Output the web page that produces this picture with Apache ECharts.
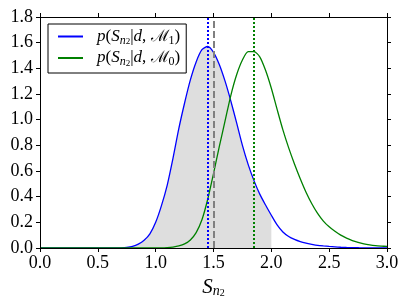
<!DOCTYPE html>
<html><head><meta charset="utf-8">
<script src="https://cdn.jsdelivr.net/npm/echarts@6/dist/echarts.min.js"></script>
<style>html,body{margin:0;padding:0;background:#fff}#c{width:407px;height:308px}</style>
</head><body><div id="c"></div>
<script>
const xs = [0.00,0.05,0.10,0.15,0.20,0.25,0.30,0.35,0.40,0.45,0.50,0.55,0.60,0.65,0.70,0.75,0.80,0.85,0.90,0.95,
1.00,1.05,1.10,1.15,1.20,1.25,1.30,1.35,1.40,1.45,1.50,1.55,1.60,1.65,1.70,1.75,1.80,1.85,1.90,1.95,
2.00,2.05,2.10,2.15,2.20,2.25,2.30,2.35,2.40,2.45,2.50,2.55,2.60,2.65,2.70,2.75,2.80,2.85,2.90,2.95,3.00];
const pM1 = [0,0,0,0,0,0,0,0,0,0,0,0,0,0,
0.001,0.004,0.012,0.030,0.060,0.11,
0.20,0.33,0.49,0.70,0.93,1.13,1.31,1.45,1.545,1.57,
1.525,1.43,1.30,1.145,0.975,0.80,0.65,0.525,0.42,0.335,
0.255,0.18,0.125,0.09,0.067,0.05,0.038,0.029,0.021,0.016,
0.012,0.009,0.006,0.004,0.003,0.002,0.001,0.001,0,0,
0];
const pM0 = [0,0,0,0,0,0,0,0,0,0,0,0,0,0,0,0,0,0,0,0,0,0,
0.002,0.007,0.016,0.032,0.063,0.12,0.22,0.38,
0.58,0.79,0.99,1.19,1.35,1.465,1.53,1.53,1.49,1.385,
1.245,1.08,0.92,0.78,0.655,0.54,0.435,0.345,0.27,0.21,
0.165,0.13,0.10,0.077,0.058,0.044,0.033,0.025,0.019,0.015,
0.012];
const shadeMax = 2.0;
const vlineM1 = 1.452;
const vlineData = 1.5;
const vlineM0 = 1.855;
const xTicks = {min:0, max:3, interval:0.5};
const yTicks = {min:0, max:1.8, interval:0.2};

const FONT = '"Liberation Serif","DejaVu Serif",serif';
const SMOOTH = 0.25;
const pair = (arr) => xs.map((x,i)=>[x, arr[i]]);
const shadeData = xs.map((x,i)=>[x,pM1[i]]).filter(p=>p[0] <= shadeMax + 1e-9);

const chart = echarts.init(document.getElementById('c'), null, {renderer:'canvas'});
const axisCommon = {
  axisLine:{show:true, onZero:false, lineStyle:{color:'#000', width:1}},
  axisTick:{show:true, inside:false, length:4, lineStyle:{color:'#000', width:1}},
  splitLine:{show:false},
  z:10
};
const lblStyle = {color:'#000', fontFamily:FONT, fontSize:18};
const richLegend = {
  sp:{width:9},
  i:{fontFamily:FONT, fontStyle:'italic', fontSize:17, color:'#000', lineHeight:20},
  r:{fontFamily:FONT, fontSize:17, color:'#000', lineHeight:20},
  m:{fontFamily:'"DejaVu Serif",serif', fontSize:16, color:'#000', lineHeight:20},
  s1:{fontFamily:FONT, fontStyle:'italic', fontSize:12, color:'#000', lineHeight:10, verticalAlign:'bottom'},
  s1n:{fontFamily:FONT, fontSize:12, color:'#000', lineHeight:10, verticalAlign:'bottom'},
  s2:{fontFamily:FONT, fontSize:9, color:'#000', lineHeight:5, verticalAlign:'bottom'}
};
const option = {
  animation:false,
  backgroundColor:'#fff',
  grid:{left:40, top:17, width:347, height:231, containLabel:false},
  legend:{
    left:48, top:24, orient:'vertical',
    data:['M1','M0'],
    icon:'rect', itemWidth:25, itemHeight:2, itemGap:3,
    borderColor:'#000', borderWidth:1, borderRadius:0,
    padding:[4,6,5,10],
    backgroundColor:'#fff',
    formatter:(n)=> '{sp|}{i|p}{r|(}{i|S}{s1|n}{s2|2}{r||}{i|d}{r|, }{m|ℳ}{s1n|' + (n==='M1'?'1':'0') + '}{r|)}',
    textStyle:{rich:richLegend}
  },
  xAxis:[
    Object.assign({type:'value', position:'bottom', min:xTicks.min, max:xTicks.max, interval:xTicks.interval,
      axisLabel:Object.assign({margin:6, formatter:v=>v.toFixed(1)}, lblStyle),
      name:'{s|S}{n|n}{t|2}', nameLocation:'middle', nameGap:26,
      nameTextStyle:{rich:{
        s:{fontFamily:FONT, fontStyle:'italic', fontSize:21, color:'#000', lineHeight:22},
        n:{fontFamily:FONT, fontStyle:'italic', fontSize:14, color:'#000', lineHeight:12, verticalAlign:'bottom'},
        t:{fontFamily:FONT, fontSize:10, color:'#000', lineHeight:6, verticalAlign:'bottom'}
      }}
    }, axisCommon),
    Object.assign({type:'value', position:'top', min:xTicks.min, max:xTicks.max, interval:xTicks.interval,
      axisLabel:{show:false}}, axisCommon)
  ],
  yAxis:[
    Object.assign({type:'value', position:'left', min:yTicks.min, max:yTicks.max, interval:yTicks.interval,
      axisLabel:Object.assign({margin:7, formatter:v=>v.toFixed(1)}, lblStyle)}, axisCommon),
    Object.assign({type:'value', position:'right', min:yTicks.min, max:yTicks.max, interval:yTicks.interval,
      axisLabel:{show:false}}, axisCommon)
  ],
  series:[
    {name:'shade', type:'line', data:shadeData, smooth:SMOOTH, symbol:'none', silent:true, z:1,
     lineStyle:{width:0, opacity:0}, areaStyle:{color:'#dedede', opacity:1}},
    {name:'M1', type:'line', data:pair(pM1), smooth:SMOOTH, symbol:'none', z:3,
     color:'#0000ff', lineStyle:{color:'#0000ff', width:1.3}},
    {name:'M0', type:'line', data:pair(pM0), smooth:SMOOTH, symbol:'none', z:3,
     color:'#008000', lineStyle:{color:'#008000', width:1.3},
     markLine:{silent:true, symbol:'none', label:{show:false},
       data:[
         {xAxis:vlineM1, lineStyle:{color:'#0000ff', width:2, type:[2,2]}},
         {xAxis:vlineData, lineStyle:{color:'#808080', width:2, type:[7,3]}},
         {xAxis:vlineM0, lineStyle:{color:'#008000', width:2, type:[2,2]}}
       ]}}
  ]
};
chart.setOption(option);
</script></body></html>
